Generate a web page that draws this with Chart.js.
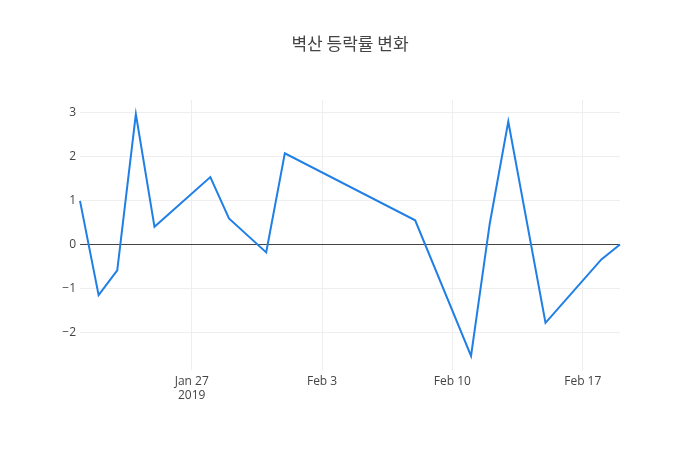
<!DOCTYPE html>
<html>
<head>
<meta charset="utf-8">
<script src="https://cdn.jsdelivr.net/npm/chart.js@4/dist/chart.umd.min.js"></script>
<style>
  html, body { margin: 0; padding: 0; background: #fff; }
  #wrap { width: 700px; height: 450px; }
</style>
</head>
<body>
<div id="wrap"><canvas id="rateChart" width="700" height="450"></canvas></div>
<script>
// 날짜와 등락률
const dates = ['2019-01-21', '2019-01-22', '2019-01-23', '2019-01-24', '2019-01-25',
  '2019-01-28', '2019-01-29', '2019-01-31', '2019-02-01', '2019-02-08',
  '2019-02-11', '2019-02-12', '2019-02-13', '2019-02-15', '2019-02-18', '2019-02-19'];
const rates = [0.99, -1.15, -0.59, 2.96, 0.40, 1.53, 0.59, -0.18, 2.07, 0.55,
  -2.53, 0.46, 2.79, -1.78, -0.34, 0.0];
const tickDates = ['2019-01-27', '2019-02-03', '2019-02-10', '2019-02-17'];
const tickLabels = [['Jan 27', '2019'], 'Feb 3', 'Feb 10', 'Feb 17'];
const titleText = '벽산 등락률 변화';

const DAY = 86400000;
function toDay(s) {
  const p = s.split('-').map(Number);
  return Date.UTC(p[0], p[1] - 1, p[2]) / DAY;
}

const points = dates.map((d, i) => ({ x: toDay(d), y: rates[i] }));
const tickDays = tickDates.map(toDay);

const titlePlugin = {
  id: 'plotTitle',
  afterDraw(chart) {
    const c = chart.ctx;
    c.save();
    c.fillStyle = '#444';
    c.font = '17px "Noto Sans CJK KR", "Open Sans", sans-serif';
    c.textAlign = 'center';
    c.textBaseline = 'middle';
    c.fillText(titleText, 350, 44);
    c.restore();
  }
};

const tickFont = { family: '"Open Sans", "Noto Sans", sans-serif', size: 12 };

new Chart(document.getElementById('rateChart').getContext('2d'), {
  type: 'line',
  data: {
    datasets: [{
      data: points,
      borderColor: '#1f7fe6',
      borderWidth: 2,
      pointRadius: 0,
      tension: 0,
      fill: false
    }]
  },
  options: {
    responsive: false,
    animation: false,
    clip: false,
    layout: { padding: { top: 100, right: 80, left: 0, bottom: 0 } },
    plugins: {
      legend: { display: false },
      tooltip: { enabled: false }
    },
    scales: {
      x: {
        type: 'linear',
        min: toDay(dates[0]),
        max: toDay(dates[dates.length - 1]),
        afterFit(scale) { scale.height = 80; },
        afterBuildTicks(scale) {
          scale.ticks = tickDays.map(v => ({ value: v }));
        },
        ticks: {
          color: '#444',
          font: tickFont,
          padding: 4,
          maxRotation: 0,
          autoSkip: false,
          callback: function (value) {
            const i = tickDays.indexOf(value);
            return i >= 0 ? tickLabels[i] : '';
          }
        },
        grid: { color: '#eee', drawTicks: false },
        border: { display: false }
      },
      y: {
        min: -2.85,
        max: 3.28,
        afterFit(scale) { scale.width = 80; },
        afterBuildTicks(scale) {
          scale.ticks = [-2, -1, 0, 1, 2, 3].map(v => ({ value: v }));
        },
        ticks: {
          color: '#444',
          font: tickFont,
          padding: 4,
          callback: v => (v < 0 ? '\u2212' + Math.abs(v) : String(v))
        },
        grid: {
          drawTicks: false,
          color: ctx => (ctx.tick && ctx.tick.value === 0 ? '#444' : '#eee'),
          lineWidth: 1
        },
        border: { display: false }
      }
    }
  },
  plugins: [titlePlugin]
});
</script>
</body>
</html>
